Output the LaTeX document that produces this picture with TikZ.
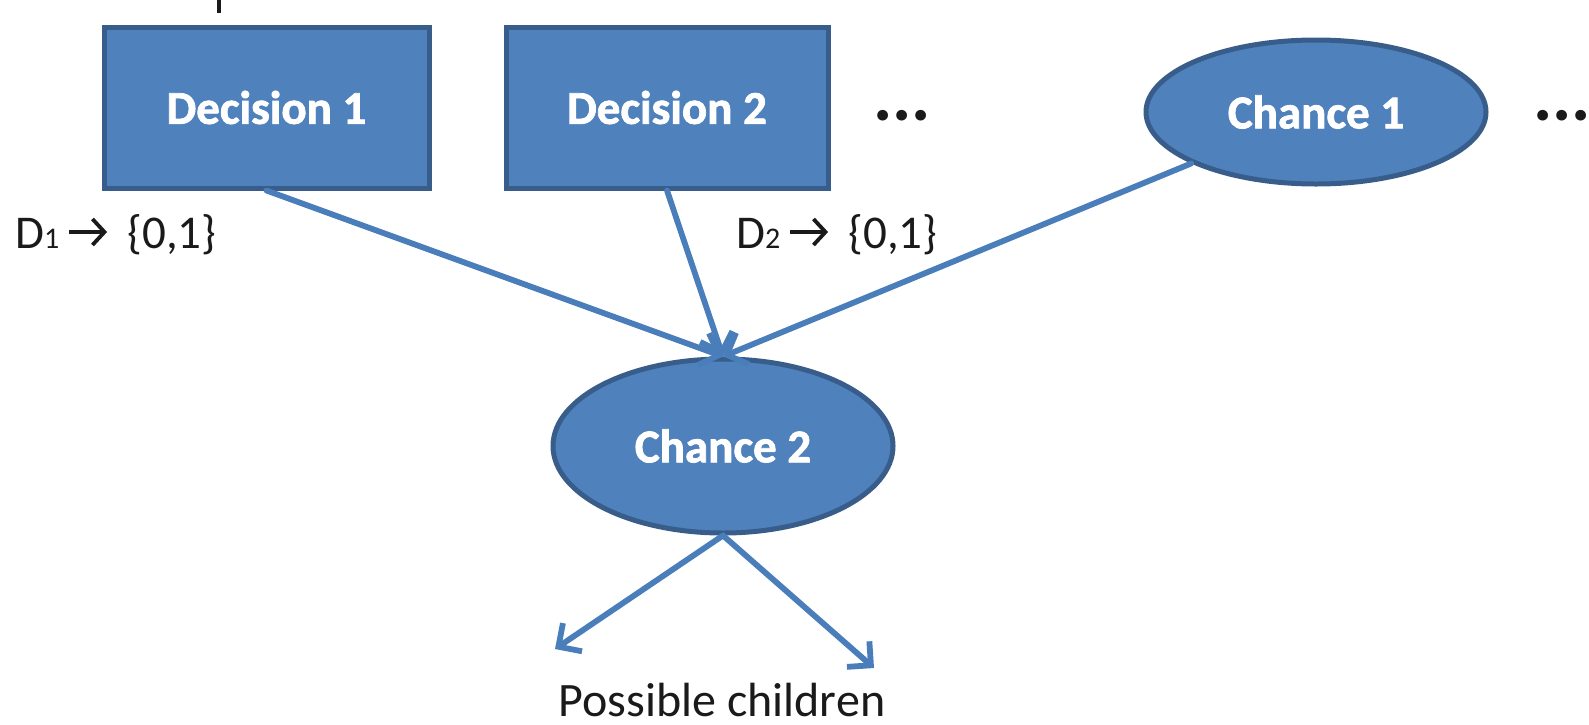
\documentclass[tikz,border=0pt]{standalone}
\usepackage{fontspec}
\setmainfont{Carlito}
\newfontfamily\nodefont[FakeBold=1.6]{Carlito Bold}
\usetikzlibrary{shapes.geometric,arrows.meta}
\definecolor{nodefill}{HTML}{4F81BD}
\definecolor{nodeedge}{HTML}{385D8A}
\definecolor{linkblue}{HTML}{4A7EBB}
\definecolor{inktext}{HTML}{1A1A1A}
\tikzset{
  decbox/.style={draw=nodeedge, fill=nodefill, line width=5pt, rectangle,
    text=white, font=\fontsize{47}{52}\nodefont, inner sep=0pt},
  chancenode/.style={draw=nodeedge, fill=nodefill, line width=5pt, ellipse,
    text=white, font=\fontsize{47}{52}\nodefont, inner sep=0pt},
  link/.style={draw=linkblue, line width=5.8pt, line cap=round,
    -{Straight Barb[length=17pt,width=34pt,line width=5.8pt]}},
  label/.style={text=inktext, font=\fontsize{47}{52}\selectfont, inner sep=0pt},
  dots/.style={text=inktext, font=\fontsize{72}{78}\selectfont\bfseries, inner sep=0pt}
}
% chevron arrow used in the domain labels
\newcommand{\maparrow}{\tikz[baseline=0pt, x=1pt, y=1pt]\draw[inktext, line width=3.8pt,
  -{Straight Barb[length=12pt,width=26pt,line width=3.8pt]}] (0,16) -- (38,16);}
\begin{document}
\begin{tikzpicture}[x=1pt,y=-1pt]
  \useasboundingbox (0,0) rectangle (1589,724);

  % descender of a heading above the frame
  \draw[inktext, line width=3.5pt] (219,0) coordinate (hd) -- (219,13);

  % decision nodes
  \node[decbox, minimum width=325pt, minimum height=161pt] (d1) at (266.5,107.5) {Decision 1};
  \node[decbox, minimum width=322pt, minimum height=161pt] (d2) at (667,107.5) {Decision 2};
  \node[dots, anchor=base] (dots1) at (902,120) {...};

  % chance nodes
  \node[chancenode, minimum width=340pt, minimum height=144pt] (c1) at (1316,112) {Chance 1};
  \node[dots, anchor=base west] (dots2) at (1533,120) {...};
  \node[chancenode, minimum width=340pt, minimum height=174pt] (c2) at (723,446) {Chance 2};

  % domain labels of the decisions
  \node[label, anchor=base west] (l1) at (15,248)
    {D{\fontsize{30}{34}\selectfont 1}\,\maparrow\, \{0,1\}};
  \node[label, anchor=base west] (l2) at (736,248)
    {D{\fontsize{30}{34}\selectfont 2}\,\maparrow\, \{0,1\}};

  % influence arcs into Chance 2
  \draw[link] (d1.south) -- (c2.north);
  \draw[link] (d2.south) -- (c2.north);
  \draw[link] (c1) -- (c2.north);

  % arcs to possible children
  \coordinate (ch1) at (555,649);
  \coordinate (ch2) at (874,668);
  \draw[link] (c2.south) -- (ch1);
  \draw[link] (c2.south) -- (ch2);
  \node[label, anchor=base, font=\fontsize{48}{54}\selectfont] (kids) at (722,716) {Possible children};
\end{tikzpicture}
\end{document}
